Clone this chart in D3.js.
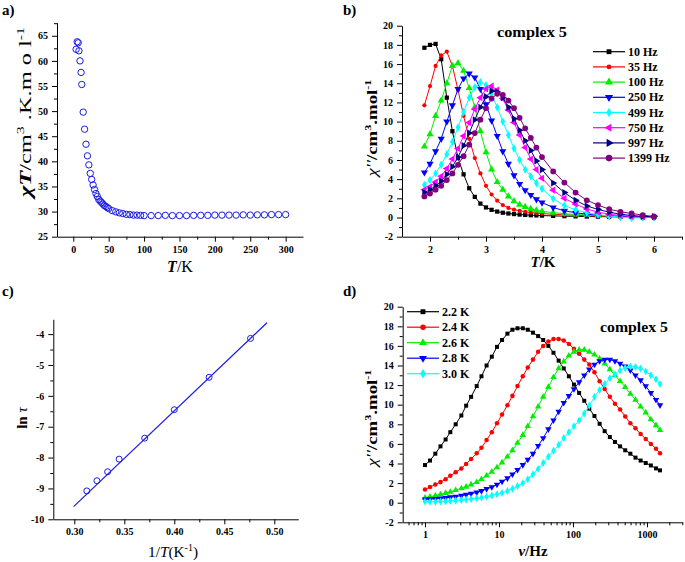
<!DOCTYPE html>
<html><head><meta charset="utf-8">
<script src="https://cdn.jsdelivr.net/npm/d3@7"></script>
<style>body{margin:0;background:#fff} text{font-family:"Liberation Serif","Times New Roman",serif;}</style>
</head><body><svg id="c" width="685" height="562"></svg>
<script>
// ---------- data ----------
// panel a
const aT = [4,5.5,7,8,9.5,11,12,14,16,18,20,22,24,26,28,30,32,34,36,38,40,42,44,46,48,50,55,60,65,70,75,80,85,90,95,100,110,120,130,140,150,160,170,180,190,200,210,220,230,240,250,260,270,280,290,300];
const aChiT = [62.3,63.8,63.6,62.0,60.0,57.7,55.3,49.8,46.4,43.4,41.1,39.3,37.6,36.4,35.3,34.4,33.6,33.0,32.4,32.1,31.8,31.5,31.2,31.0,30.8,30.6,30.2,29.95,29.75,29.6,29.45,29.4,29.3,29.3,29.25,29.2,29.2,29.2,29.25,29.2,29.2,29.2,29.25,29.25,29.25,29.3,29.3,29.3,29.3,29.35,29.3,29.35,29.35,29.4,29.4,29.4];
const aXTicks = [0,50,100,150,200,250,300];
const aYTicks = [25,30,35,40,45,50,55,60,65];

// panel b
const bT = [1.9,2.0,2.1,2.2,2.3,2.4,2.5,2.6,2.7,2.8,2.9,3.0,3.1,3.2,3.3,3.4,3.5,3.6,3.7,3.8,3.9,4.0,4.2,4.4,4.6,4.8,5.0,5.2,5.4,5.6,5.8,6.0];
const bLabels = ["10 Hz","35 Hz","100 Hz","250 Hz","499 Hz","750 Hz","997 Hz","1399 Hz"];
const b10 = [17.7,18.0,18.1,16.5,12.5,9.0,6.2,4.5,3.05,2.15,1.45,1.05,0.8,0.62,0.5,0.42,0.36,0.31,0.27,0.24,0.22,0.2,0.17,0.14,0.12,0.1,0.09,0.08,0.07,0.06,0.06,0.05];
const b35 = [11.7,13.7,15.8,16.9,17.3,15.8,13.3,10.6,8.2,6.2,4.6,3.3,2.4,1.75,1.3,1.0,0.82,0.7,0.6,0.52,0.46,0.41,0.34,0.28,0.23,0.19,0.16,0.13,0.11,0.09,0.08,0.07];
const b100 = [7.4,8.7,10.6,12.2,14.0,15.8,16.1,15.3,13.5,11.5,9.0,6.8,5.0,3.7,2.9,2.2,1.7,1.35,1.1,0.9,0.75,0.65,0.5,0.4,0.32,0.26,0.21,0.17,0.14,0.12,0.1,0.08];
const b250 = [4.7,5.6,6.9,8.2,10.0,11.7,13.4,14.5,15.0,14.6,13.4,11.8,10.1,8.5,6.9,5.6,4.4,3.5,2.85,2.35,1.9,1.56,1.04,0.7,0.5,0.35,0.25,0.18,0.12,0.08,0.06,0.05];
const b499 = [3.4,3.9,4.6,5.5,6.6,7.9,9.4,11.0,12.5,13.6,14.1,13.8,12.8,11.5,10.0,8.6,7.2,6.0,5.0,4.3,3.6,3.0,1.95,1.25,0.8,0.5,0.3,0.15,0.05,-0.05,0.0,0.05];
const b750 = [2.9,3.2,3.7,4.3,5.1,6.1,7.2,8.5,9.9,11.3,12.5,13.4,13.7,13.3,12.4,11.2,9.9,8.6,7.3,6.1,5.0,4.1,2.85,2.0,1.4,0.9,0.55,0.35,0.2,0.1,0.05,0.05];
const b997 = [2.6,2.9,3.3,3.8,4.5,5.3,6.3,7.5,8.8,10.2,11.5,12.6,13.2,13.1,12.5,11.5,10.3,9.1,8.0,7.0,5.9,5.0,3.6,2.6,1.8,1.2,0.85,0.55,0.35,0.2,0.12,0.1];
const b1399 = [2.2,2.5,2.9,3.3,3.9,4.6,5.5,6.4,7.6,8.8,10.2,11.4,12.4,12.9,12.8,12.2,11.4,10.4,9.3,8.3,7.3,6.3,4.8,3.65,2.6,1.8,1.3,0.87,0.6,0.42,0.25,0.1];
const bXTicks = [2,3,4,5,6];
const bYTicks = [-2,0,2,4,6,8,10,12,14,16,18,20];

// panel c
const cInvT = [0.3125,0.3226,0.3333,0.3448,0.3704,0.4,0.4348,0.4762];
const cLnTau = [-9.08,-8.75,-8.46,-8.05,-7.37,-6.45,-5.40,-4.14];
const cFitX = [0.2993,0.4927];
const cFitY = [-9.59,-3.63];
const cXTicks = [0.30,0.35,0.40,0.45,0.50];
const cYTicks = [-10,-9,-8,-7,-6,-5,-4];

// panel d
const dFreq = [1,1.17,1.38,1.62,1.9,2.2,2.6,3.1,3.6,4.2,5.0,5.8,6.8,8.0,9.4,11,13,15.2,17.8,21,24.5,28.8,33.8,39.6,46.5,54.5,64,75,88,103,121,142,166,195,229,268,315,369,433,508,596,699,820,962,1128,1323,1500];
const dLabels = ["2.2 K","2.4 K","2.6 K","2.8 K","3.0 K"];
const d22 = [3.84,4.3,5.0,5.75,6.45,7.2,8.0,8.9,9.9,10.8,11.9,12.9,14.0,14.9,15.9,16.6,17.25,17.65,17.8,17.8,17.65,17.35,17.0,16.6,16.0,15.3,14.5,13.7,12.9,12.05,11.2,10.4,9.6,8.85,8.05,7.3,6.7,6.2,5.75,5.35,5.0,4.6,4.3,4.05,3.8,3.5,3.3];
const d24 = [1.35,1.6,1.85,2.1,2.4,2.75,3.1,3.5,3.95,4.45,5.05,5.6,6.4,7.2,8.1,9.0,9.95,10.9,11.9,12.9,13.8,14.6,15.4,16.0,16.45,16.7,16.7,16.55,16.2,15.7,15.2,14.6,14.1,13.3,12.4,11.6,10.8,10.1,9.5,8.8,8.1,7.6,7.0,6.5,6.0,5.5,5.05];
const d26 = [0.5,0.6,0.72,0.85,0.98,1.1,1.27,1.45,1.62,1.85,2.1,2.4,2.75,3.15,3.6,4.1,4.7,5.35,6.1,6.9,7.8,8.8,9.8,10.8,11.8,12.8,13.7,14.4,15.0,15.4,15.6,15.6,15.4,15.1,14.7,14.2,13.6,13.0,12.4,11.8,11.1,10.5,9.8,9.2,8.5,7.9,7.4];
const d28 = [0.35,0.37,0.4,0.45,0.5,0.56,0.63,0.72,0.82,0.93,1.05,1.2,1.4,1.6,1.85,2.15,2.5,2.9,3.35,3.85,4.4,5.0,5.8,6.6,7.5,8.4,9.3,10.2,10.9,11.6,12.3,13.0,13.6,14.1,14.45,14.6,14.6,14.45,14.2,13.9,13.5,13.0,12.5,11.9,11.2,10.5,9.95];
const d30 = [0.12,0.1,0.1,0.12,0.15,0.18,0.22,0.27,0.32,0.38,0.45,0.52,0.62,0.73,0.86,1.0,1.2,1.42,1.7,2.0,2.4,2.9,3.45,4.05,4.7,5.3,5.9,6.6,7.2,7.8,8.4,9.1,9.9,10.8,11.5,12.1,12.7,13.1,13.5,13.75,13.9,13.85,13.7,13.4,13.0,12.6,12.1];
const dXTicks = [1,10,100,1000];
const dYTicks = [-2,0,2,4,6,8,10,12,14,16,18,20];

// ---------- drawing ----------
const svg = d3.select("#c");
const BLUE = "#1a1ae6";

function fmt(d){ return String(d); }
function drawAxes(g, x, y, xMaj, xMin, yMaj, yMin, xFmt, yFmt) {
  const y0 = y.range()[0], x0 = x.range()[0];
  const style = s => s.attr("font-family", '"Liberation Serif","Times New Roman",serif')
     .attr("font-size", 10).attr("font-weight","bold");
  g.append("g").attr("transform",`translate(0,${y0})`)
    .call(d3.axisBottom(x).tickValues(xMin).tickSize(3).tickSizeOuter(0).tickFormat(""))
    .call(s => s.select(".domain").remove());
  g.append("g").attr("transform",`translate(${x0},0)`)
    .call(d3.axisLeft(y).tickValues(yMin).tickSize(3).tickSizeOuter(0).tickFormat(""))
    .call(s => s.select(".domain").remove());
  g.append("g").attr("transform",`translate(0,${y0})`)
    .call(d3.axisBottom(x).tickValues(xMaj).tickSize(5).tickSizeOuter(0).tickPadding(4).tickFormat(xFmt||fmt))
    .call(style);
  g.append("g").attr("transform",`translate(${x0},0)`)
    .call(d3.axisLeft(y).tickValues(yMaj).tickSize(5).tickSizeOuter(0).tickPadding(4).tickFormat(yFmt||fmt))
    .call(style);
}
function label(x, y, parts, size, rotate, len) {
  const t = svg.append("text")
    .attr("transform", `translate(${x},${y})` + (rotate ? " rotate(-90)" : ""))
    .attr("text-anchor","middle").attr("font-size", size).attr("font-weight","bold").attr("fill","#000");
  let sup = false;
  parts.forEach(p => {
    const ts = t.append("tspan").text(p.t);
    if (p.i) ts.attr("font-style","italic");
    if (p.n) ts.attr("font-weight","normal");
    if (p.s) { ts.attr("font-size", size*0.65); if (!sup) ts.attr("dy", -size*0.42); sup = true; }
    else if (sup) { ts.attr("dy", size*0.42); sup = false; }
  });
  if (len) t.attr("textLength", len).attr("lengthAdjust","spacingAndGlyphs");
  return t;
}
function range(a,b,s){ const r=[]; for(let v=a; v<=b+1e-9; v+=s) r.push(+v.toFixed(4)); return r; }

// panel letters
[["a)",2,15],["b)",343,15],["c)",2,296],["d)",343,296]].forEach(([t,x,y]) =>
  svg.append("text").attr("x",x).attr("y",y).attr("font-size",15).attr("font-weight","bold").text(t));

// ===== Panel a =====
{
  const x = d3.scaleLinear().domain([-23, 324.5]).range([57, 303]);
  const y = d3.scaleLinear().domain([25, 67.6]).range([236.7, 22.7]);
  const g = svg.append("g");
  drawAxes(g, x, y, aXTicks, [25,75,125,175,225,275], aYTicks, [27.5,32.5,37.5,42.5,47.5,52.5,57.5,62.5,67.5]);
  g.append("g").selectAll("circle").data(aT).join("circle")
    .attr("cx", (d,i) => x(d)).attr("cy", (d,i) => y(aChiT[i])).attr("r", 3.2)
    .attr("fill","none").attr("stroke", BLUE).attr("stroke-width", 1);
  label(180, 272, [{t:"T",i:1},{t:"/K",n:1}], 16, false);
  label(31, 112, [{t:"χT",i:1},{t:"/cm",n:1},{t:"3",s:1,n:1},{t:" .K.m o l",n:1},{t:"-1",s:1,n:1}], 16, true, 170);
}

// ===== Panel b =====
{
  const x = d3.scaleLinear().domain([1.5, 6.5]).range([402, 682]);
  const y = d3.scaleLinear().domain([-2, 20]).range([236.7, 25.7]);
  const g = svg.append("g");
  drawAxes(g, x, y, bXTicks, [2.5,3.5,4.5,5.5,6.5], bYTicks, range(-1,19,2));
  const series = [b10,b35,b100,b250,b499,b750,b997,b1399];
  const colors = ["#000000","#ff0000","#00ee00","#0000ff","#00ffff","#ff00ff","#000080","#800080"];
  const sym = [
    {t:d3.symbolSquare, r:0, s:18},
    {t:d3.symbolCircle, r:0, s:14},
    {t:d3.symbolTriangle, r:0, s:22},
    {t:d3.symbolTriangle, r:180, s:22},
    {t:d3.symbolDiamond, r:0, s:20},
    {t:d3.symbolTriangle, r:-90, s:22},
    {t:d3.symbolTriangle, r:90, s:22},
    {t:d3.symbolCircle, r:0, s:26}
  ];
  const line = d3.line().x((d,i) => x(bT[i])).y(d => y(d));
  series.forEach((s, k) => {
    g.append("path").datum(s).attr("d", line).attr("fill","none").attr("stroke", colors[k]).attr("stroke-width",1);
    g.append("g").selectAll("path").data(s).join("path")
      .attr("d", d3.symbol().type(sym[k].t).size(sym[k].s))
      .attr("transform", (d,i) => `translate(${x(bT[i])},${y(d)}) rotate(${sym[k].r})`)
      .attr("fill", colors[k]);
  });
  // legend
  bLabels.forEach((t, k) => {
    const yy = 51.7 + k*15.2;
    g.append("line").attr("x1",593).attr("x2",625).attr("y1",yy).attr("y2",yy).attr("stroke",colors[k]).attr("stroke-width",1.2);
    g.append("path").attr("d", d3.symbol().type(sym[k].t).size(sym[k].s*1.3))
      .attr("transform",`translate(609,${yy}) rotate(${sym[k].r})`).attr("fill",colors[k]);
    g.append("text").attr("x",628).attr("y",yy+4).attr("font-size",12).attr("font-weight","bold").text(t);
  });
  label(532, 37, [{t:"complex 5"}], 14, false, 70);
  label(543, 267, [{t:"T",i:1},{t:"/K"}], 15, false);
  label(377, 128, [{t:"χ′′",i:1,n:1},{t:"/cm"},{t:"3",s:1},{t:".mol"},{t:"-1",s:1}], 14, true, 97);
}

// ===== Panel c =====
{
  const x = d3.scaleLinear().domain([0.279, 0.524]).range([53.3, 298.3]);
  const y = d3.scaleLinear().domain([-10, -3.52]).range([519.3, 319.3]);
  const g = svg.append("g");
  drawAxes(g, x, y, cXTicks, [0.325,0.375,0.425,0.475], cYTicks, [-9.5,-8.5,-7.5,-6.5,-5.5,-4.5,-3.5].filter(v=>v<=-3.52), d3.format(".2f"));
  g.append("path").datum(cFitX).attr("d", d3.line().x(d => x(d)).y((d,i) => y(cFitY[i])))
    .attr("fill","none").attr("stroke", BLUE).attr("stroke-width",1.2);
  g.append("g").selectAll("circle").data(cInvT).join("circle")
    .attr("cx", d => x(d)).attr("cy", (d,i) => y(cLnTau[i])).attr("r", 3)
    .attr("fill","none").attr("stroke", BLUE).attr("stroke-width",1);
  label(27, 418, [{t:"ln "},{t:"τ",i:1,n:1}], 15, true);
  label(173, 557, [{t:"1/",n:1},{t:"T",i:1,n:1},{t:"(K",n:1},{t:"-1",s:1,n:1},{t:")",n:1}], 15, false, 50);
}

// ===== Panel d =====
{
  const x = d3.scaleLog().domain([0.5, 3000]).range([402.7, 682.3]);
  const y = d3.scaleLinear().domain([-2, 20]).range([522.3, 306.7]);
  const g = svg.append("g");
  const minor = [0.6,0.7,0.8,0.9,2,3,4,5,6,7,8,9,20,30,40,50,60,70,80,90,200,300,400,500,600,700,800,900,2000,3000];
  drawAxes(g, x, y, dXTicks, minor, dYTicks, range(-1,19,2));
  const series = [d22,d24,d26,d28,d30];
  const colors = ["#000000","#ff0000","#00ee00","#0000ff","#00ffff"];
  const sym = [
    {t:d3.symbolSquare, r:0, s:16},
    {t:d3.symbolCircle, r:0, s:16},
    {t:d3.symbolTriangle, r:0, s:18},
    {t:d3.symbolTriangle, r:180, s:18},
    {t:d3.symbolDiamond, r:0, s:18}
  ];
  const line = d3.line().x((d,i) => x(dFreq[i])).y(d => y(d));
  series.forEach((s, k) => {
    g.append("path").datum(s).attr("d", line).attr("fill","none").attr("stroke", colors[k]).attr("stroke-width",1);
    g.append("g").selectAll("path").data(s).join("path")
      .attr("d", d3.symbol().type(sym[k].t).size(sym[k].s))
      .attr("transform", (d,i) => `translate(${x(dFreq[i])},${y(d)}) rotate(${sym[k].r})`)
      .attr("fill", colors[k]);
  });
  dLabels.forEach((t, k) => {
    const yy = 311.7 + k*15.5;
    g.append("line").attr("x1",407).attr("x2",439).attr("y1",yy).attr("y2",yy).attr("stroke",colors[k]).attr("stroke-width",1.2);
    g.append("path").attr("d", d3.symbol().type(sym[k].t).size(sym[k].s*1.5))
      .attr("transform",`translate(423,${yy}) rotate(${sym[k].r})`).attr("fill",colors[k]);
    g.append("text").attr("x",442).attr("y",yy+4).attr("font-size",12).attr("font-weight","bold").text(t);
  });
  label(634, 332, [{t:"complex 5"}], 14, false, 68);
  label(533, 556, [{t:"ν",i:1},{t:"/Hz"}], 15, false);
  label(377, 418, [{t:"χ′′",i:1,n:1},{t:"/cm"},{t:"3",s:1},{t:".mol"},{t:"-1",s:1}], 14, true, 97);
}
</script>
</body></html>
